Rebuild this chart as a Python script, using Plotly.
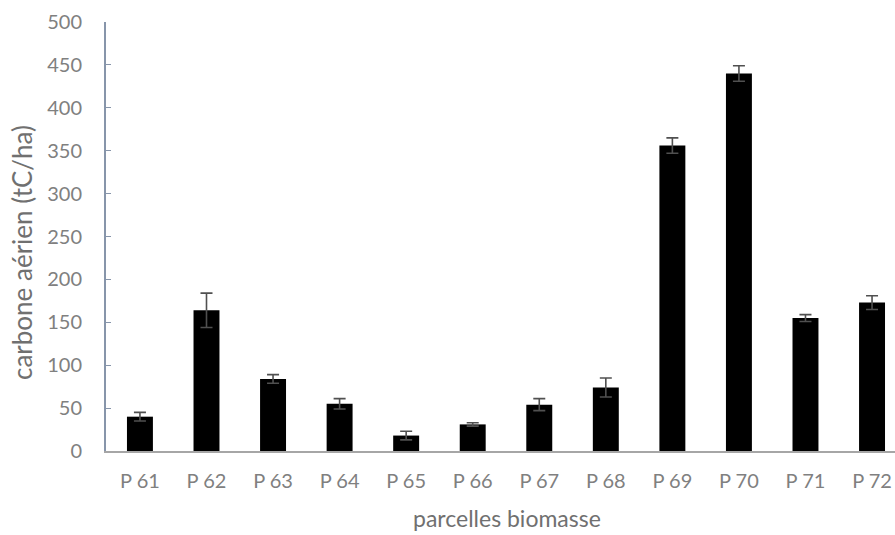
import plotly.graph_objects as go

categories = ["P 61", "P 62", "P 63", "P 64", "P 65", "P 66", "P 67", "P 68", "P 69", "P 70", "P 71", "P 72"]
carbone = [40, 164, 84, 55, 18, 31, 54, 74, 356, 440, 155, 173]
erreur = [5, 20, 5, 6, 5, 2, 7, 11, 9, 9, 4, 8]
y_ticks = [0, 50, 100, 150, 200, 250, 300, 350, 400, 450, 500]

fig = go.Figure()
fig.add_trace(go.Bar(
    x=categories, y=carbone,
    marker=dict(color="black", line=dict(width=0)),
    width=0.39,
    error_y=dict(type="data", array=erreur, visible=True, color="#505050", thickness=1.6, width=6),
))

font_family = "Lato, 'Open Sans', sans-serif"
tick_col = "#808080"
title_col = "#707070"
fig.update_layout(
    template="none",
    width=895, height=535,
    margin=dict(l=106, r=0, t=22, b=84, pad=0),
    paper_bgcolor="white", plot_bgcolor="white",
    showlegend=False,
    font=dict(family=font_family, color=tick_col, size=20),
    annotations=[
        dict(text="carbone aérien (tC/ha)", textangle=-90, xref="paper", yref="paper",
             x=0, y=0.4615, xshift=-84, xanchor="center", yanchor="middle", showarrow=False,
             font=dict(size=26, color=title_col, family=font_family)),
        dict(text="parcelles biomasse", xref="paper", yref="paper",
             x=0.508, y=0, yshift=-67, xanchor="center", yanchor="middle", showarrow=False,
             font=dict(size=23, color=title_col, family=font_family)),
    ],
)
fig.update_xaxes(
    range=[-0.51, 11.345],
    showline=True, linecolor="#a6a6a6", linewidth=2,
    ticks="", showgrid=False, zeroline=False,
    tickfont=dict(size=20, color=tick_col),
    ticklabelstandoff=11,
)
fig.update_yaxes(
    range=[0, 500], tickvals=y_ticks,
    showline=True, linecolor="#8795aa", linewidth=2,
    ticks="inside", ticklen=5, tickcolor="#8795aa", tickwidth=1,
    showgrid=False, zeroline=False,
    tickfont=dict(size=20, color=tick_col),
    ticklabelstandoff=18,
)

fig.write_html(
    "out.html",
    config={"displayModeBar": False},
    post_script="document.body.style.margin='0';document.body.style.overflow='hidden';"
                "document.documentElement.style.overflow='hidden';",
)
